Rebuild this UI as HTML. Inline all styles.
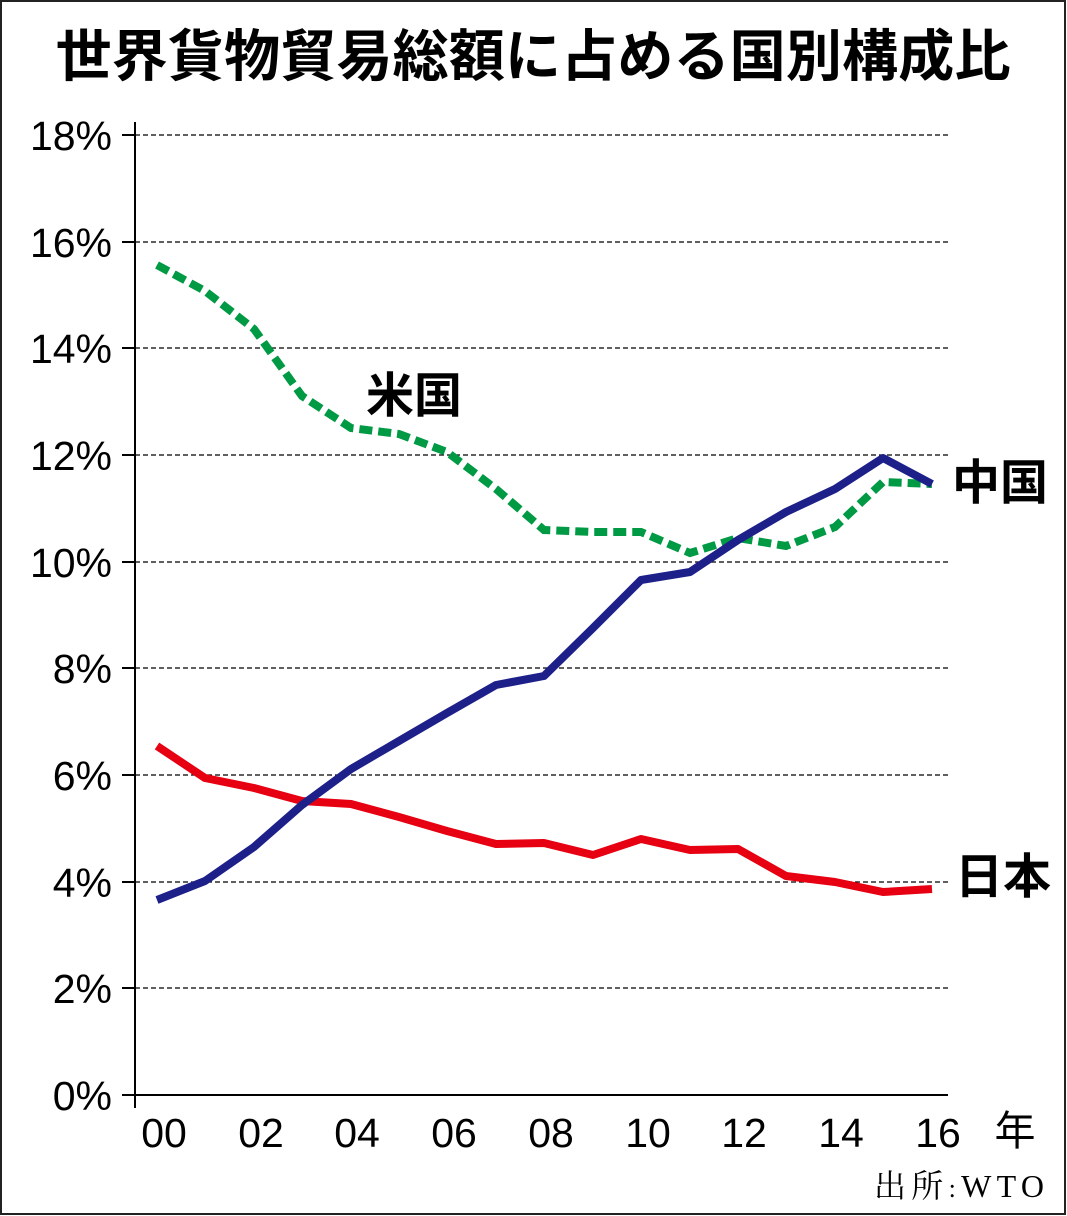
<!DOCTYPE html>
<html><head><meta charset="utf-8"><style>
html,body{margin:0;padding:0;background:#fff;}
svg{display:block;}
</style></head><body>
<svg width="1067" height="1216" viewBox="0 0 1067 1216" xmlns="http://www.w3.org/2000/svg" font-family="'Liberation Sans','Noto Sans CJK JP',sans-serif">
<rect x="1" y="1" width="1064" height="1213" fill="#fff" stroke="#222" stroke-width="2"/>
<text x="533" y="76" text-anchor="middle" font-size="56" font-weight="bold" fill="#000" textLength="955" lengthAdjust="spacingAndGlyphs">世界貨物貿易総額に占める国別構成比</text>
<g stroke="#000" stroke-width="1.3" stroke-dasharray="5,3">
<line x1="135" y1="135" x2="948" y2="135"/>
<line x1="135" y1="242" x2="948" y2="242"/>
<line x1="135" y1="348" x2="948" y2="348"/>
<line x1="135" y1="455" x2="948" y2="455"/>
<line x1="135" y1="562" x2="948" y2="562"/>
<line x1="135" y1="668" x2="948" y2="668"/>
<line x1="135" y1="775" x2="948" y2="775"/>
<line x1="135" y1="882" x2="948" y2="882"/>
<line x1="135" y1="988" x2="948" y2="988"/>
</g>
<g stroke="#000" stroke-width="2">
<line x1="135" y1="122" x2="135" y2="1108"/>
<line x1="122" y1="1095" x2="948" y2="1095"/>
<line x1="122" y1="135" x2="135" y2="135"/><line x1="122" y1="242" x2="135" y2="242"/>
<line x1="122" y1="348" x2="135" y2="348"/><line x1="122" y1="455" x2="135" y2="455"/>
<line x1="122" y1="562" x2="135" y2="562"/><line x1="122" y1="668" x2="135" y2="668"/>
<line x1="122" y1="775" x2="135" y2="775"/><line x1="122" y1="882" x2="135" y2="882"/>
<line x1="122" y1="988" x2="135" y2="988"/>
</g>
<g font-size="41" text-anchor="end" fill="#000">
<text x="112" y="150">18%</text><text x="112" y="257">16%</text><text x="112" y="363">14%</text>
<text x="112" y="470">12%</text><text x="112" y="577">10%</text><text x="112" y="683">8%</text>
<text x="112" y="790">6%</text><text x="112" y="897">4%</text><text x="112" y="1003">2%</text>
<text x="112" y="1110">0%</text>
</g>
<g font-size="41" text-anchor="middle" fill="#000">
<text x="164" y="1147">00</text><text x="261" y="1147">02</text><text x="357" y="1147">04</text>
<text x="454" y="1147">06</text><text x="551" y="1147">08</text><text x="648" y="1147">10</text>
<text x="744" y="1147">12</text><text x="841" y="1147">14</text><text x="938" y="1147">16</text>
<text x="1015" y="1145">年</text>
</g>
<text x="874" y="1197" font-size="32" font-family="'Liberation Serif','Noto Serif CJK SC',serif" textLength="170" lengthAdjust="spacing">出所<tspan font-size="26">:</tspan>WTO</text>
<polyline fill="none" stroke="#e60012" stroke-width="8" stroke-linejoin="round" points="157,746 205,778 254,788 302,801 351,804 399,817 447,831 496,844 544,843 593,855 641,839 690,850 738,849 786,876 835,882 883,892 932,889"/>
<polyline fill="none" stroke="#009944" stroke-width="8" stroke-dasharray="13,6" points="157,265 205,291 254,329 302,396 351,428 399,434 447,452 496,489 544,530 593,532 641,532 690,553 738,538 786,546 835,527 883,482 932,484"/>
<polyline fill="none" stroke="#1d2088" stroke-width="8" stroke-linejoin="round" points="157,900 205,881 254,847 302,805 351,769 399,741 447,713 496,685 544,676 593,628 641,580 690,572 738,540 786,512 835,489 883,458 932,484"/>
<g font-size="48" font-weight="bold" fill="#000">
<text x="366" y="412">米国</text>
<text x="952" y="499">中国</text>
<text x="955" y="893">日本</text>
</g>
</svg>
</body></html>
